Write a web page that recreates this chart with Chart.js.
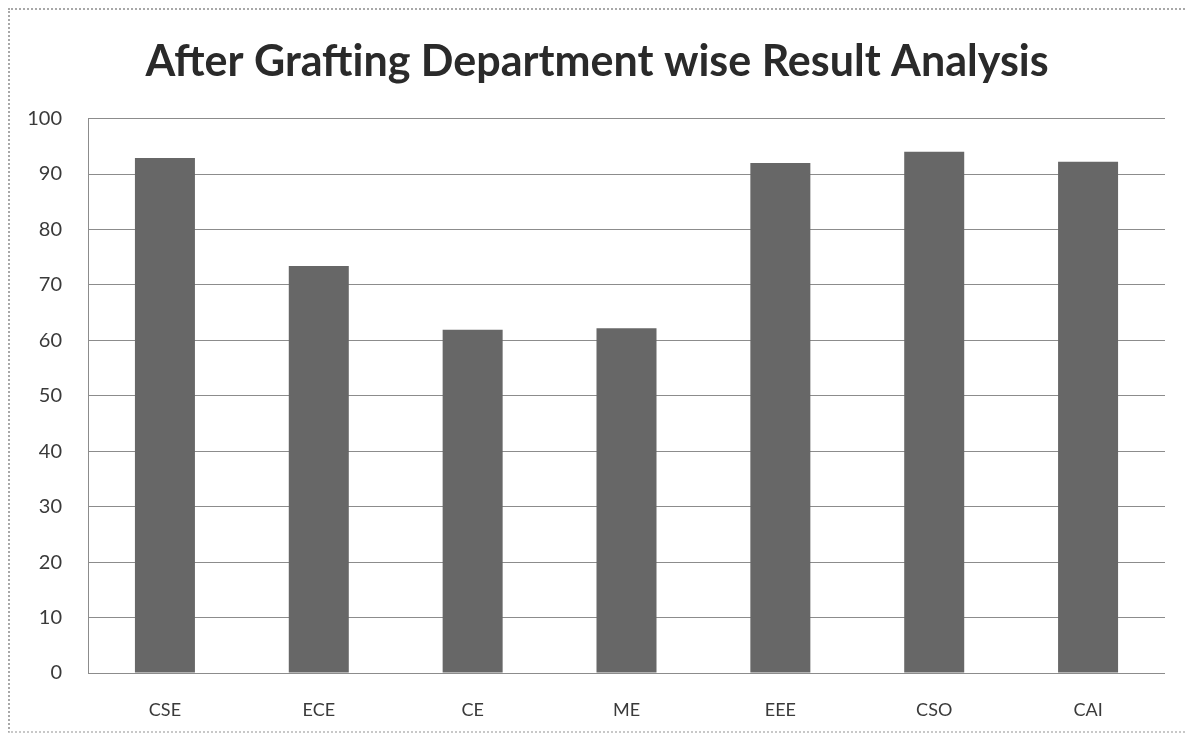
<!DOCTYPE html>
<html>
<head>
<meta charset="utf-8">
<title>After Grafting Department wise Result Analysis</title>
<script src="https://cdn.jsdelivr.net/npm/chart.js@4/dist/chart.umd.min.js"></script>
<style>
  html, body { margin: 0; padding: 0; background: #fff; }
  body { width: 1186px; height: 736px; position: relative; overflow: hidden; }
  #frame {
    position: absolute; left: 8px; top: 8px; width: 1400px; height: 725px;
    border-left: 2px dotted #a8a8a8; border-top: 2px dotted #a8a8a8; border-bottom: 2px dotted #c8c8c8;
    box-sizing: border-box;
  }
  /* kanvas mulai di x=29 supaya judul (center kotak judul) jatuh di x ≈ 597 */
  #wrap { position: absolute; left: 29px; top: 0; width: 1157px; height: 736px; }
</style>
</head>
<body>
<div id="frame"></div>
<div id="wrap"><canvas id="chart-hasil"></canvas></div>
<script>
// ─── Data ─────────────────────────────────────────────────────────────────────

const JUDUL      = 'After Grafting Department wise Result Analysis';
const DEPARTEMEN = ['CSE', 'ECE', 'CE', 'ME', 'EEE', 'CSO', 'CAI'];
const HASIL      = [92.9, 73.4, 61.9, 62.2, 92.0, 94.0, 92.2];
const TICK_Y     = [0, 10, 20, 30, 40, 50, 60, 70, 80, 90, 100];

const FONT = "Lato, 'Open Sans', sans-serif";

// ─── Chart ────────────────────────────────────────────────────────────────────

new Chart(document.getElementById('chart-hasil'), {
  type: 'bar',
  data: {
    labels: DEPARTEMEN,
    datasets: [{
      label: 'Result',
      data: HASIL,
      backgroundColor: '#676767',
      borderWidth: 0,
      categoryPercentage: 1,
      barPercentage: 0.39
    }]
  },
  options: {
    responsive: true,
    maintainAspectRatio: false,
    animation: false,
    layout: { padding: { left: 0, right: 21, top: 0, bottom: 0 } },
    plugins: {
      legend: { display: false },
      tooltip: { enabled: false },
      title: {
        display: true,
        text: JUDUL,
        color: '#2a2a2a',
        font: { family: FONT, size: 43, weight: 'bold', lineHeight: 1.2 },
        padding: { top: 36, bottom: 31 }
      }
    },
    scales: {
      x: {
        grid: { display: false, drawTicks: false },
        border: { display: false },
        ticks: { color: '#3a3a3a', font: { family: FONT, size: 18 }, padding: 26 },
        afterFit: s => { s.height = 63; }
      },
      y: {
        min: 0,
        max: 100,
        afterBuildTicks: s => { s.ticks = TICK_Y.map(v => ({ value: v })); },
        grid: { color: '#8c8c8c', lineWidth: 1, drawTicks: false },
        border: { display: true, color: '#8c8c8c', width: 1 },
        ticks: { color: '#3a3a3a', font: { family: FONT, size: 20 }, padding: 26 },
        // lebar sumbu y dipaksa: area plot mulai di x = 29 + 59 = 88
        afterFit: s => { s.width = 59; }
      }
    }
  }
});
</script>
</body>
</html>
